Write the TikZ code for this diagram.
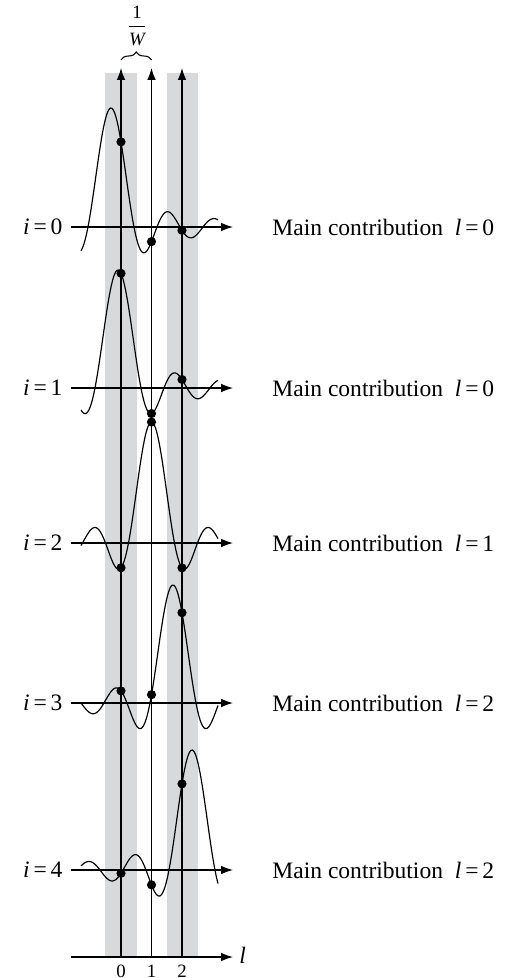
\documentclass[tikz,border=0pt]{standalone}
\usepackage{fontspec}
\setmainfont{Liberation Serif}
\usetikzlibrary{arrows.meta, decorations.pathreplacing}
\definecolor{bandgray}{RGB}{216,217,219}

\begin{document}
\begin{tikzpicture}[
    x=0.425pt, y=-0.425pt,
    axis/.style={line width=0.5pt, -{Latex[length=5pt, width=3.6pt]}},
    band/.style={fill=bandgray, draw=none},
    pulse/.style={line width=0.5pt, smooth},
    sample/.style={circle, fill=black, minimum size=3.9pt, inner sep=0pt},
    rowtext/.style={inner sep=0pt, anchor=east},
    maintext/.style={inner sep=0pt, anchor=west},
    ticktext/.style={font=\footnotesize, inner sep=0pt},
    declare function={sincf(\t)=sin(180*(\t+0.001))/(pi*(\t+0.001));}
]
    \useasboundingbox (0,0) rectangle (507,978);

    % grey bands round l = 0 and l = 2
    \fill[band] (105,73) rectangle (137,957);
    \fill[band] (167,73) rectangle (198,957);

    % vertical sample lines, with their labels on the l axis
    \foreach \l/\xs in {0/121, 1/151.5, 2/182} {
        \coordinate (b\l) at (\xs,957);
        \coordinate (t\l) at (\xs,68);
        \draw[axis] (b\l) -- (t\l);
        \node[ticktext] (n\l) at (\xs,971) {\l};
    }

    % l axis
    \coordinate (lstart) at (71,957);
    \coordinate (lend) at (233,957);
    \draw[axis] (lstart) -- (lend);
    \node[inner sep=0pt, anchor=west] (lname) at (239,955) {\textit{l}};

    % spacing 1/W
    \draw[line width=0.45pt, decorate, decoration={brace, amplitude=3.4pt}]
        ([yshift=3.4pt]t0) -- ([yshift=3.4pt]t1);
    \node[font=\footnotesize, inner sep=0pt] (width) at (137,26)
        {$\displaystyle\frac{\mbox{1}}{\mbox{\itshape W}}$};

    % one row per i: axis, pulse, samples, labels
    \foreach \i/\yy/\c/\a/\mc in {0/227/111/119/0, 1/388/118/118/0, 2/543/151.5/121/1,
                                  3/703/173/118/2, 4/870/192/120/2} {
        \coordinate (a\i) at (71,\yy);
        \coordinate (e\i) at (233,\yy);
        \draw[axis] (a\i) -- (e\i);
        \draw[pulse] plot[domain=81:218, samples=140] (\x, {\yy-\a*sincf((\x-\c)/23)});
        \foreach \l/\xs in {0/121, 1/151.5, 2/182}
            \node[sample] (s\i\l) at (\xs, {\yy-\a*sincf((\xs-\c)/23)}) {};
        \node[rowtext] (r\i) at (63,\yy) {\textit{i}\,=\,\i};
        \node[maintext] (m\i) at (272,\yy) {Main contribution\enspace\textit{l}\,=\,\mc};
    }
\end{tikzpicture}
\end{document}
